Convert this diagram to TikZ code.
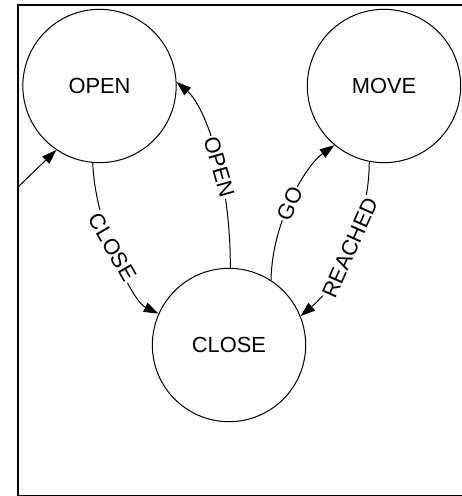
\documentclass[tikz,border=0pt]{standalone}
\usepackage{fontspec}
\setmainfont{Liberation Sans}
\usetikzlibrary{arrows.meta}
\tikzset{every picture/.style={line width=0.75pt}}
\tikzset{
	state/.style={draw, circle, minimum size=115pt, inner sep=0pt, font=\fontsize{16.4}{19}\selectfont},
	trans/.style={-{Triangle[length=11pt,width=7.5pt]}},
	lbl/.style={fill=white, inner sep=1pt, font=\fontsize{16.4}{19}\selectfont}
}
\begin{document}
\begin{tikzpicture}[x=0.75pt,y=0.75pt,yscale=-1,xscale=1]
		\useasboundingbox (0,0) rectangle (461,496);
		%Shape: Rectangle [id:frame] 
		\draw  [line width=1.7pt] (18,5) rectangle (490,496.5) ;

		%Shape: Circle [id:open] 
		\node [state] (open) at (99.5,86) {OPEN};
		%Shape: Circle [id:move] 
		\node [state] (move) at (384,86) {MOVE};
		%Shape: Circle [id:close] 
		\node [state] (close) at (229,345) {CLOSE};

		%Straight Lines [id:init] 
		\coordinate (init) at (18,187);
		\draw [trans] (init) -- (open.236) ;
		%Curve Lines [id:open-close] 
		\draw [trans] (open.265) .. controls +(2,60) and +(-27,-13) .. node [lbl,pos=0.45,rotate=-60] {CLOSE} (close.156) ;
		%Curve Lines [id:close-open] 
		\draw [trans] (close.89) .. controls +(0,-97) and +(27,23) .. node [lbl,pos=0.4,rotate=-74] {OPEN} (open.3) ;
		%Curve Lines [id:close-move] 
		\draw [trans] (close.57) .. controls +(1,-60) and +(-28,20) .. node [lbl,pos=0.46,rotate=66] {GO} (move.230) ;
		%Curve Lines [id:move-close] 
		\draw [trans] (move.259) .. controls +(0,60) and +(38,-32) .. node [lbl,pos=0.49,rotate=66] {REACHED} (close.22) ;

	\end{tikzpicture}
\end{document}
